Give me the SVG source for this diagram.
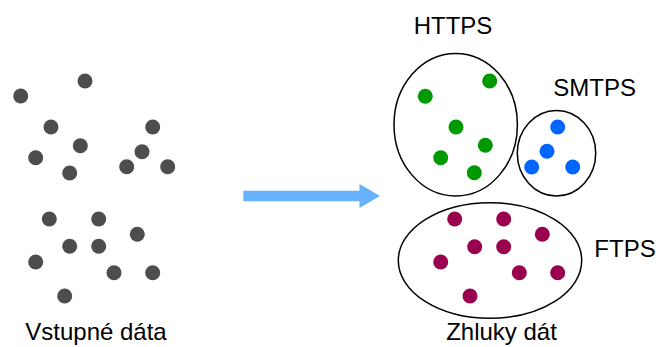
<svg xmlns="http://www.w3.org/2000/svg" width="662" height="347" viewBox="0 0 662 347">
  <style>
    .lbl { font-family: "Liberation Sans", Arial, sans-serif; font-size: 24px; fill: #000; }
    .grp { fill: none; stroke: #000; stroke-width: 1.5; }
    .raw { fill: #4d4d4d; }
    .https { fill: #009900; }
    .smtps { fill: #0066ff; }
    .ftps { fill: #99004d; }
  </style>
  <rect width="662" height="347" fill="#fff"/>

  <!-- unsorted input points -->
  <g id="input-data" class="raw">
    <circle cx="85" cy="81" r="7.5"/>
    <circle cx="20.7" cy="96" r="7.5"/>
    <circle cx="51" cy="127" r="7.5"/>
    <circle cx="152.7" cy="127" r="7.5"/>
    <circle cx="80.3" cy="145.7" r="7.5"/>
    <circle cx="35.7" cy="157.7" r="7.5"/>
    <circle cx="142" cy="151.7" r="7.5"/>
    <circle cx="69.7" cy="173" r="7.5"/>
    <circle cx="126.7" cy="166.7" r="7.5"/>
    <circle cx="167.7" cy="166.7" r="7.5"/>
    <circle cx="49.3" cy="219" r="7.5"/>
    <circle cx="98.7" cy="219" r="7.5"/>
    <circle cx="137.3" cy="234.3" r="7.5"/>
    <circle cx="69.7" cy="246.3" r="7.5"/>
    <circle cx="98.7" cy="246.3" r="7.5"/>
    <circle cx="35.7" cy="262" r="7.5"/>
    <circle cx="114" cy="272.7" r="7.5"/>
    <circle cx="152.7" cy="272.7" r="7.5"/>
    <circle cx="64.7" cy="296" r="7.5"/>
  </g>
  <text id="input-label" class="lbl" x="96" y="340" text-anchor="middle">Vstupné dáta</text>

  <!-- transformation arrow -->
  <g id="connectors">
    <path d="M243.3 190.7 H359.5 V184 L380 196 L359.5 208 V201.3 H243.3 Z" fill="#66b2ff"/>
  </g>

  <!-- HTTPS cluster -->
  <g id="cluster-https">
    <ellipse class="grp" cx="455.7" cy="124.7" rx="61.7" ry="71.3"/>
    <g class="https">
      <circle cx="489.7" cy="81" r="7.5"/>
      <circle cx="425.3" cy="96.3" r="7.5"/>
      <circle cx="456" cy="127" r="7.5"/>
      <circle cx="485.3" cy="145.3" r="7.5"/>
      <circle cx="440.7" cy="157.7" r="7.5"/>
      <circle cx="474.3" cy="172.7" r="7.5"/>
    </g>
    <text class="lbl" x="453" y="34" text-anchor="middle">HTTPS</text>
  </g>

  <!-- SMTPS cluster -->
  <g id="cluster-smtps">
    <ellipse class="grp" cx="556.5" cy="153.3" rx="39.2" ry="42.7"/>
    <g class="smtps">
      <circle cx="557.7" cy="127" r="7.5"/>
      <circle cx="547" cy="151.3" r="7.5"/>
      <circle cx="531.7" cy="167" r="7.5"/>
      <circle cx="572.7" cy="167" r="7.5"/>
    </g>
    <text class="lbl" x="594.7" y="96" text-anchor="middle">SMTPS</text>
  </g>

  <!-- FTPS cluster -->
  <g id="cluster-ftps">
    <ellipse class="grp" cx="490" cy="260.5" rx="91.7" ry="57.8"/>
    <g class="ftps">
      <circle cx="454.7" cy="219" r="7.5"/>
      <circle cx="503.7" cy="219" r="7.5"/>
      <circle cx="542.3" cy="234.3" r="7.5"/>
      <circle cx="474.7" cy="246.7" r="7.5"/>
      <circle cx="503.7" cy="246.7" r="7.5"/>
      <circle cx="440.7" cy="262" r="7.5"/>
      <circle cx="519.3" cy="272.7" r="7.5"/>
      <circle cx="557.7" cy="272.7" r="7.5"/>
      <circle cx="470" cy="296" r="7.5"/>
    </g>
    <text class="lbl" x="625" y="256.5" text-anchor="middle">FTPS</text>
  </g>

  <text id="output-label" class="lbl" x="501.5" y="340" text-anchor="middle">Zhluky dát</text>
</svg>
